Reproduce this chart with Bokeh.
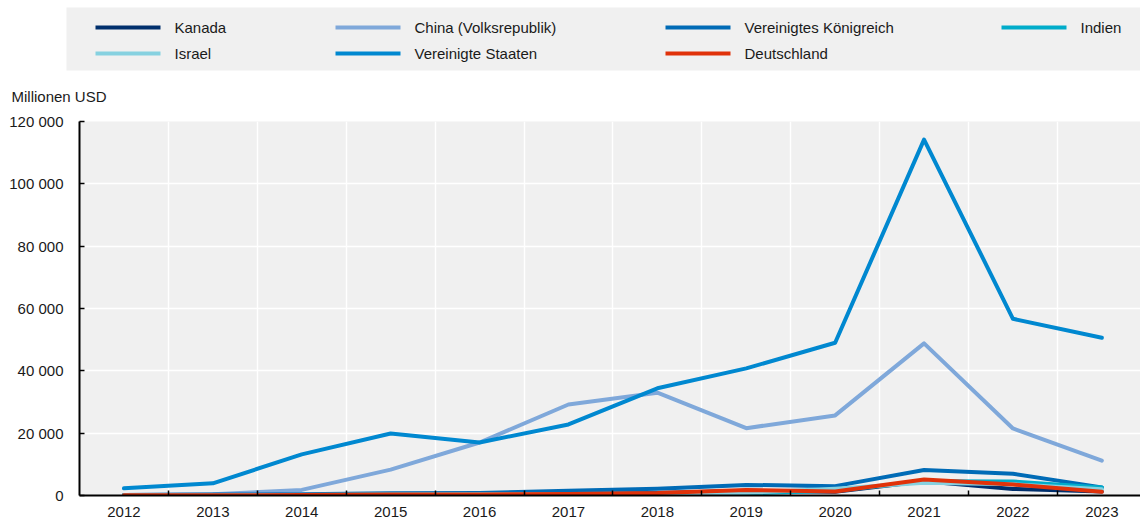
from bokeh.plotting import figure
from bokeh.models import Range1d, FixedTicker, Plot
from bokeh.layouts import column
from bokeh.core.properties import value
from bokeh.embed import file_html
from bokeh.resources import INLINE

# ---------------- data ----------------
YEARS = list(range(2012, 2024))

kanada = [50, 100, 150, 300, 400, 600, 800, 1500, 1200, 4600, 2100, 1300]
china = [200, 400, 1800, 8300, 17000, 29200, 33000, 21600, 25700, 48800, 21500, 11200]
vereinigtes_koenigreich = [200, 300, 400, 700, 800, 1500, 2200, 3400, 3000, 8200, 7000, 2600]
indien = [50, 100, 200, 300, 300, 400, 500, 700, 1500, 4600, 4500, 2600]
israel = [50, 100, 200, 300, 400, 500, 600, 900, 2200, 4100, 3600, 2000]
vereinigte_staaten = [2300, 3900, 13200, 19900, 17000, 22800, 34400, 40800, 49000, 114200, 56700, 50600]
deutschland = [50, 80, 150, 300, 350, 500, 800, 1800, 1300, 5100, 3500, 1200]

SERIES_NAMES = ["Kanada", "China (Volksrepublik)", "Vereinigtes Königreich", "Indien",
                "Israel", "Vereinigte Staaten", "Deutschland"]
SERIES_VALUES = [kanada, china, vereinigtes_koenigreich, indien, israel,
                 vereinigte_staaten, deutschland]
COLORS = ["#002F6C", "#7FA8DA", "#006BB6", "#00ACCA", "#86D1E0", "#0088D0", "#E0320A"]

Y_TICKS = [0, 20000, 40000, 60000, 80000, 100000, 120000]
Y_TICK_LABELS = ["0", "20 000", "40 000", "60 000", "80 000", "100 000", "120 000"]
Y_TITLE = "Millionen USD"

# ---------------- style / layout ----------------
FONT = "Liberation Sans"
FSIZE = "15px"
TXT = "#1a1a1a"
BG = "#f0f0f0"
W = 1140
LEG_H = 104
MAIN_H = 415

NO_ALIGN = {"frame_align": False} if "frame_align" in Plot.properties() else {}

# ---------------- legend figure ----------------
leg = figure(width=W, height=LEG_H, x_range=Range1d(0, W), y_range=Range1d(LEG_H, 0),
             toolbar_location=None, output_backend="svg", min_border=0,
             x_axis_type=None, y_axis_type=None, outline_line_color=None,
             background_fill_color="white", border_fill_color="white", **NO_ALIGN)
leg.grid.visible = False
leg.quad(left=[66], right=[W], top=[7], bottom=[70], fill_color=BG, line_color=None)

COL_X = [95, 335, 665, 1001]
ROW_Y = [27, 53]
NCOLS = 4
lx0, lx1, ly, tx = [], [], [], []
for i, name in enumerate(SERIES_NAMES):
    r, c = divmod(i, NCOLS)
    lx0.append(COL_X[c])
    lx1.append(COL_X[c] + 65)
    ly.append(ROW_Y[r])
    tx.append(COL_X[c] + 79)
leg.segment(x0=lx0, y0=ly, x1=lx1, y1=ly, line_color=COLORS, line_width=4)
leg.text(x=tx, y=ly, text=SERIES_NAMES, text_baseline="middle", text_align="left",
         text_font=value(FONT), text_font_size=value(FSIZE), text_color=TXT)
leg.text(x=[11], y=[96], text=[Y_TITLE], text_baseline="middle", text_align="left",
         text_font=value(FONT), text_font_size=value(FSIZE), text_color=TXT)

# ---------------- main figure ----------------
PX_PER_YEAR = 88.9
LEFT = 79
FRAME_W = W - LEFT
X_START = YEARS[0] - 0.5
X_END = X_START + FRAME_W / PX_PER_YEAR

p = figure(width=W, height=MAIN_H, x_range=Range1d(X_START, X_END),
           y_range=Range1d(Y_TICKS[0], Y_TICKS[-1]),
           toolbar_location=None, output_backend="svg",
           min_border_left=LEFT, min_border_right=0, min_border_top=17, min_border_bottom=24,
           background_fill_color=BG, border_fill_color="white", outline_line_color=None,
           **NO_ALIGN)

for name, vals, col in zip(SERIES_NAMES, SERIES_VALUES, COLORS):
    p.line(YEARS, vals, line_color=col, line_width=4, line_join="round", line_cap="round")

BOUNDS = [y + 0.5 for y in YEARS[:-1]]

xa = p.xaxis[0]
xa.ticker = FixedTicker(ticks=YEARS, minor_ticks=BOUNDS)
xa.major_tick_line_color = None
xa.minor_tick_in = 5
xa.minor_tick_out = 0
xa.minor_tick_line_color = "black"
xa.minor_tick_line_width = 1.5
xa.axis_line_color = "black"
xa.axis_line_width = 2
xa.major_label_text_font = FONT
xa.major_label_text_font_size = FSIZE
xa.major_label_text_color = TXT
xa.major_label_standoff = 5

ya = p.yaxis[0]
ya.ticker = FixedTicker(ticks=Y_TICKS)
ya.major_label_overrides = {t: l for t, l in zip(Y_TICKS, Y_TICK_LABELS)}
ya.major_tick_in = 5
ya.major_tick_out = 0
ya.major_tick_line_color = "black"
ya.major_tick_line_width = 1.5
ya.minor_tick_line_color = None
ya.axis_line_color = "black"
ya.axis_line_width = 2
ya.major_label_text_font = FONT
ya.major_label_text_font_size = FSIZE
ya.major_label_text_color = TXT
ya.major_label_standoff = 16

p.ygrid.ticker = FixedTicker(ticks=Y_TICKS)
p.ygrid.grid_line_color = "white"
p.ygrid.grid_line_width = 1.5
p.xgrid.ticker = FixedTicker(ticks=BOUNDS)
p.xgrid.grid_line_color = "white"
p.xgrid.grid_line_width = 1.5

layout = column(leg, p, spacing=0)
open("out.html", "w").write(file_html(layout, INLINE))
